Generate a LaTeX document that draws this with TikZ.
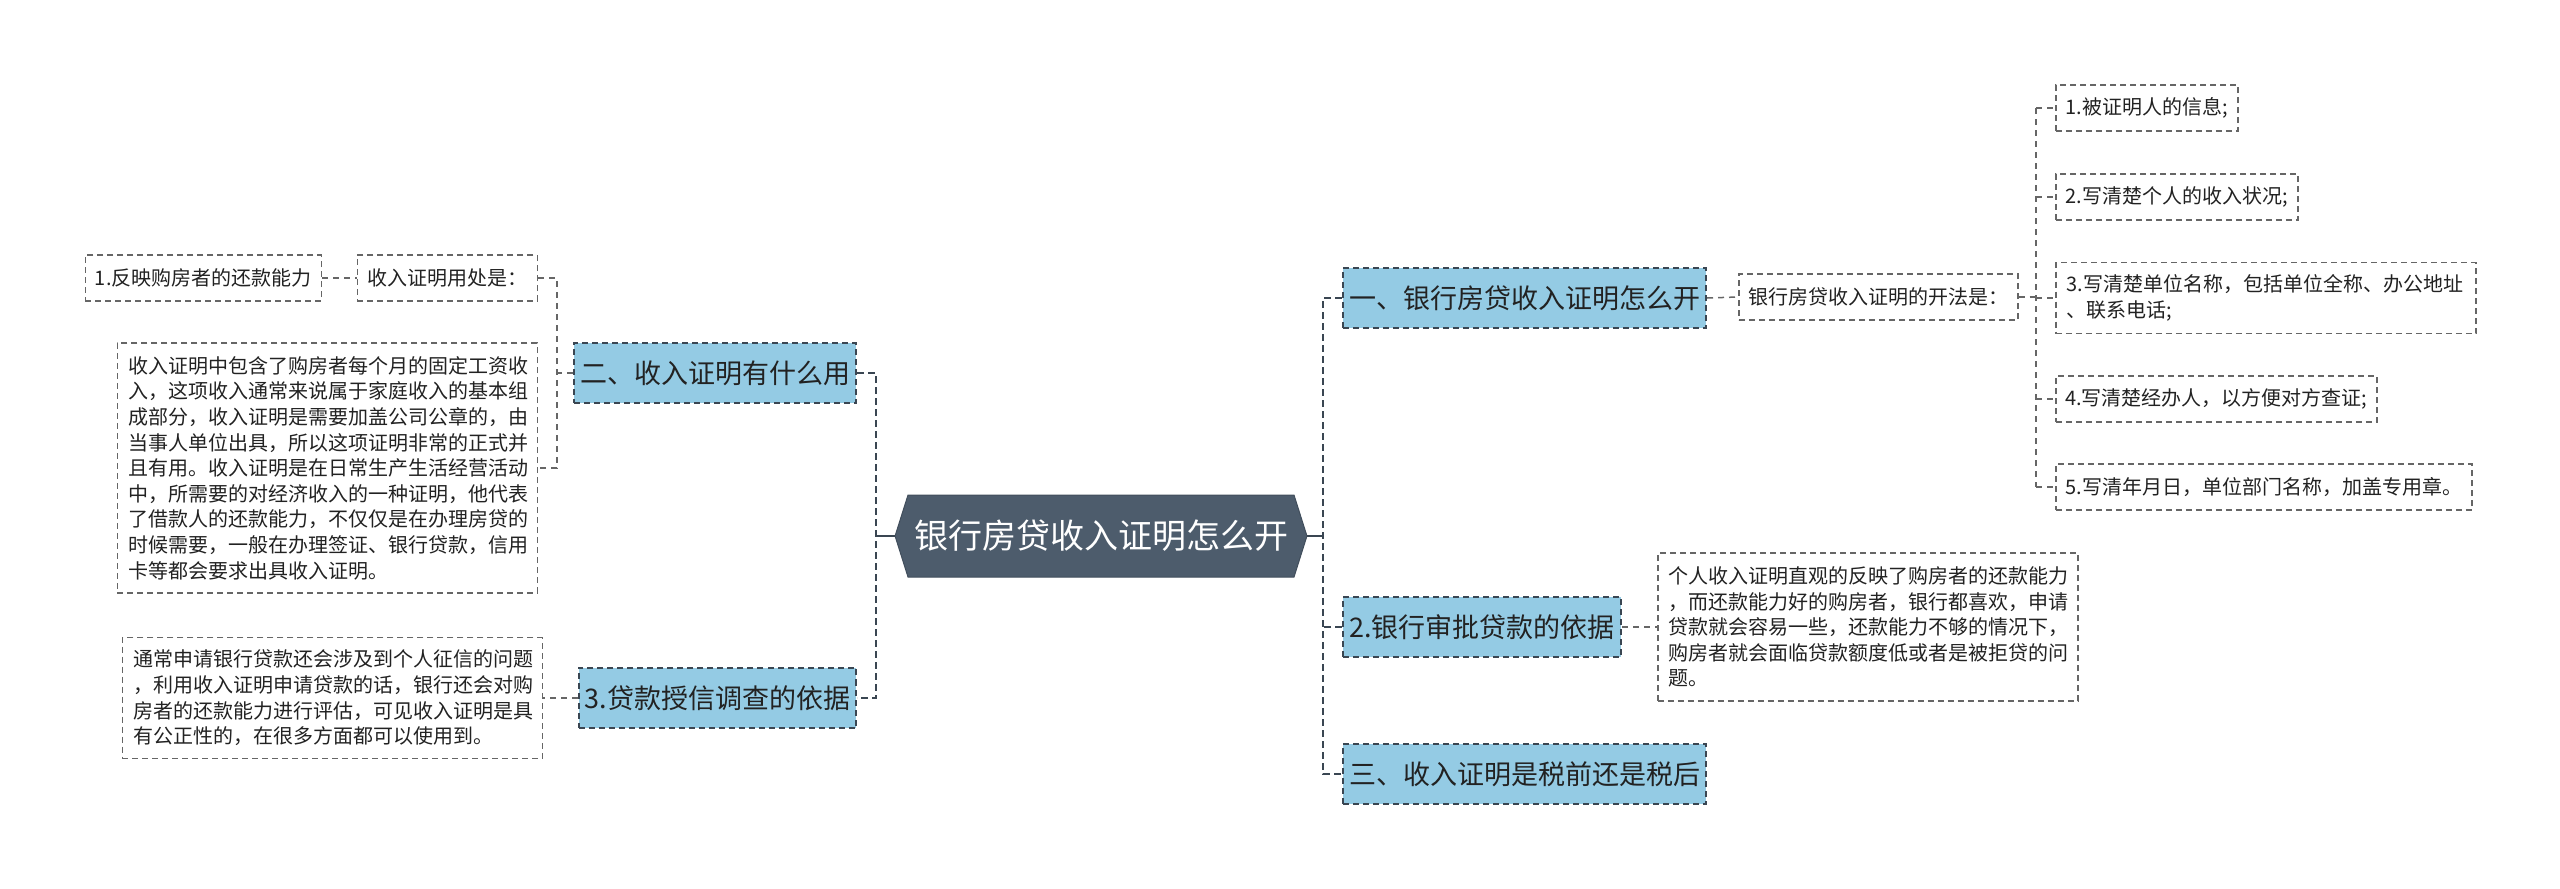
\documentclass[tikz,border=0pt]{standalone}
\usepackage{fontspec}
\setmainfont{Noto Sans CJK SC}
\usetikzlibrary{positioning,shapes.symbols}
\definecolor{rootfill}{RGB}{77,92,108}
\definecolor{topicfill}{RGB}{148,203,228}
\definecolor{topicline}{RGB}{58,70,82}
\definecolor{noteline}{RGB}{102,102,102}
\definecolor{inktext}{RGB}{34,34,34}

\begin{document}
\begin{tikzpicture}[
    x=1pt, y=-1pt,
    root/.style={signal, signal to=west and east, signal pointer angle=145, fill=rootfill, draw=rootfill!85!black, line width=1pt, text=white, inner xsep=6pt, minimum height=82pt, font=\fontsize{34}{40}\selectfont},
    topic/.style={draw=topicline, fill=topicfill, line width=2pt, dash pattern=on 6pt off 4pt, inner xsep=6pt, minimum height=60pt, text=inktext, font=\fontsize{27}{33}\selectfont},
    note/.style={draw=noteline, fill=white, line width=1.5pt, dash pattern=on 6pt off 4pt, text=inktext, minimum height=46pt, font=\fontsize{20}{25.6}\selectfont},
    para/.style={note, text width=398pt, inner xsep=11pt, align=left},
    trunk/.style={draw=topicline, line width=2.5pt},
    branch/.style={trunk, dash pattern=on 7pt off 4pt},
    twig/.style={draw=noteline, line width=1.5pt, dash pattern=on 6pt off 5pt},
]
    \useasboundingbox (0,0) rectangle (2560,889);

    \node[root] (root) at (1101,536) {银行房贷收入证明怎么开};

    % left side
    \node[topic, anchor=east, minimum width=282pt] (use) at (857,373) {二、收入证明有什么用};
    \node[topic, anchor=east, minimum width=277pt] (credit) at (857,698) {3.贷款授信调查的依据};
    \node[note, anchor=east, minimum width=180pt] (useis) at (538,278) {收入证明用处是：};
    \node[note, anchor=east, minimum width=236pt] (ability) at (322,278) {1.反映购房者的还款能力};
    \node[para, anchor=east, minimum height=250pt] (usetext) at (538,468) {收入证明中包含了购房者每个月的固定工资收\\入，这项收入通常来说属于家庭收入的基本组\\成部分，收入证明是需要加盖公司公章的，由\\当事人单位出具，所以这项证明非常的正式并\\且有用。收入证明是在日常生产生活经营活动\\中，所需要的对经济收入的一种证明，他代表\\了借款人的还款能力，不仅仅是在办理房贷的\\时候需要，一般在办理签证、银行贷款，信用\\卡等都会要求出具收入证明。};
    \node[para, anchor=east, minimum height=121pt] (credittext) at (543,698) {通常申请银行贷款还会涉及到个人征信的问题\\，利用收入证明申请贷款的话，银行还会对购\\房者的还款能力进行评估，可见收入证明是具\\有公正性的，在很多方面都可以使用到。};

    % right side
    \node[topic, anchor=west, minimum width=360pt] (how) at (1342,298) {一、银行房贷收入证明怎么开};
    \node[topic, anchor=west, minimum width=278pt] (basis) at (1342,627) {2.银行审批贷款的依据};
    \node[topic, anchor=west, minimum width=360pt] (tax) at (1342,774) {三、收入证明是税前还是税后};
    \node[note, anchor=west, minimum width=279pt] (method) at (1738,297) {银行房贷收入证明的开法是：};
    \node[para, anchor=west, minimum height=148pt] (basistext) at (1657,627) {个人收入证明直观的反映了购房者的还款能力\\，而还款能力好的购房者，银行都喜欢，申请\\贷款就会容易一些，还款能力不够的情况下，\\购房者就会面临贷款额度低或者是被拒贷的问\\题。};
    \node[note, anchor=west, minimum width=182pt] (m1) at (2055,108) {1.被证明人的信息;};
    \node[note, anchor=west, minimum width=242pt] (m2) at (2055,197) {2.写清楚个人的收入状况;};
    \node[para, anchor=west, minimum height=71pt] (m3) at (2055,298) {3.写清楚单位名称，包括单位全称、办公地址\\、联系电话;};
    \node[note, anchor=west, minimum width=321pt] (m4) at (2055,399) {4.写清楚经办人，以方便对方查证;};
    \node[note, anchor=west, minimum width=416pt] (m5) at (2055,487) {5.写清年月日，单位部门名称，加盖专用章。};

    % buses
    \coordinate (lbus) at (876,536);
    \coordinate (rbus) at (1323,536);
    \coordinate (usebus) at (557,373);
    \coordinate (mbus) at (2036,297);

    \draw[trunk] (root.west) -- (lbus);
    \draw[branch] (use.east) -- (use.east -| lbus) -- (credit.east -| lbus) -- (credit.east);
    \draw[trunk] (root.east) -- (rbus);
    \draw[branch] (how.west) -- (how.west -| rbus) -- (tax.west -| rbus) -- (tax.west);
    \draw[branch] (basis.west) -- (basis.west -| rbus);

    \draw[twig] (use.west) -- (usebus);
    \draw[twig] (useis.east) -- (useis.east -| usebus) -- (usetext.east -| usebus) -- (usetext.east);
    \draw[twig] (ability.east) -- (useis.west);
    \draw[twig] (credit.west) -- (credittext.east);
    \draw[twig] (how.east) -- (method.west);
    \draw[twig] (basis.east) -- (basistext.west);
    \draw[twig] (method.east) -- (mbus);
    \draw[twig] (m1.west -| mbus) -- (m5.west -| mbus);
    \foreach \i in {1,...,5} {
        \draw[twig] (m\i.west -| mbus) -- (m\i.west);
    }
\end{tikzpicture}
\end{document}
